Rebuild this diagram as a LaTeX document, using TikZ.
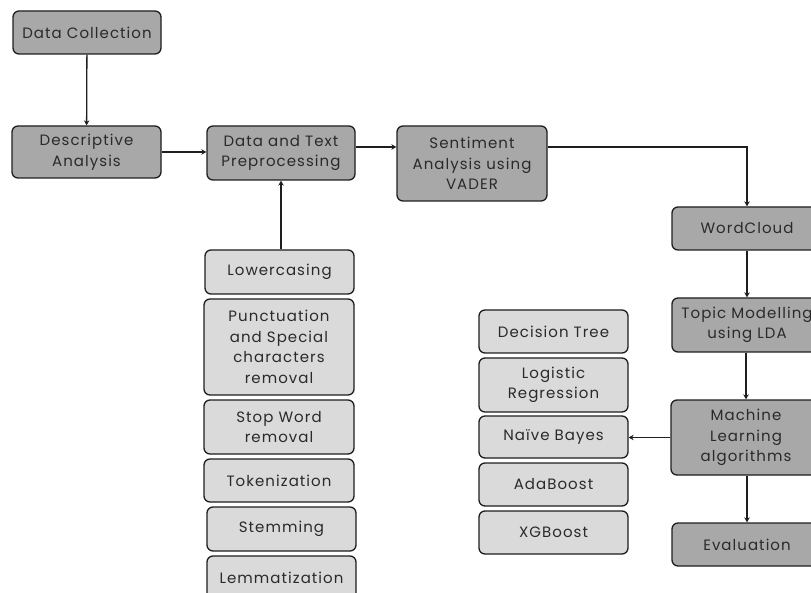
\documentclass[tikz,border=0pt]{standalone}
\usepackage{fontspec}
\setmainfont{Poppins}[LetterSpace=7]
\usetikzlibrary{arrows.meta}
\definecolor{darkfill}{HTML}{A8A8A8}
\definecolor{lightfill}{HTML}{DADADA}
\definecolor{edge}{HTML}{1E1E1E}
\definecolor{txt}{HTML}{2A2A2A}
\tikzset{
  box/.style={draw=edge, line width=1.3pt, rounded corners=6pt, align=center, inner sep=0pt, text=txt, font=\fontsize{15}{20.5}\selectfont},
  darkbox/.style={box, fill=darkfill},
  lightbox/.style={box, fill=lightfill},
  conn/.style={draw=edge, line width=1.3pt, -{Stealth[length=5pt,width=5.5pt]}}
}
\begin{document}
\begin{tikzpicture}[x=1pt,y=-1pt]
\useasboundingbox (0,0) rectangle (811,593);
\clip (0,0) rectangle (811,593);
% main column
\node[darkbox, minimum width=148pt, minimum height=43pt] (dc) at (87,32.5) {Data Collection};
\node[darkbox, minimum width=149pt, minimum height=52pt] (da) at (86.5,152) {Descriptive\\Analysis};
\node[darkbox, minimum width=148pt, minimum height=54pt] (dtp) at (281,153) {Data and Text\\Preprocessing};
\node[darkbox, minimum width=150pt, minimum height=75pt] (sa) at (472,163.5) {Sentiment\\Analysis using\\VADER};
\node[darkbox, minimum width=150pt, minimum height=43pt] (wc) at (747,228.5) {WordCloud};
\node[darkbox, minimum width=150pt, minimum height=54pt] (tm) at (747,325) {Topic Modelling\\using LDA};
\node[darkbox, minimum width=150pt, minimum height=75pt] (ml) at (746,437.5) {Machine\\Learning\\algorithms};
\node[darkbox, minimum width=150pt, minimum height=43pt] (ev) at (747,544.5) {Evaluation};
% preprocessing steps
\node[lightbox, minimum width=149pt, minimum height=44pt] (lc) at (279.5,272) {Lowercasing};
\node[lightbox, minimum width=150pt, minimum height=96pt] (pu) at (279,347) {Punctuation\\and Special\\characters\\removal};
\node[lightbox, minimum width=150pt, minimum height=54pt] (sw) at (279,427) {Stop Word\\removal};
\node[lightbox, minimum width=150pt, minimum height=43pt] (tk) at (279,480.5) {Tokenization};
\node[lightbox, minimum width=149pt, minimum height=44pt] (st) at (281.5,529) {Stemming};
\node[lightbox, minimum width=149pt, minimum height=44pt] (lm) at (281.5,578) {Lemmatization};
% algorithms
\node[lightbox, minimum width=149pt, minimum height=43pt] (dt) at (553.5,331.5) {Decision Tree};
\node[lightbox, minimum width=149pt, minimum height=54pt] (lr) at (553.5,385) {Logistic\\Regression};
\node[lightbox, minimum width=149pt, minimum height=42pt] (nb) at (553.5,437) {Naïve Bayes};
\node[lightbox, minimum width=149pt, minimum height=43pt] (ab) at (553.5,484.5) {AdaBoost};
\node[lightbox, minimum width=149pt, minimum height=43pt] (xg) at (553.5,532.5) {XGBoost};
% connectors
\coordinate (dtpout) at ([yshift=6pt]dtp.east);
\coordinate (saout) at ([yshift=16.5pt]sa.east);
\draw[conn] (dc) -- (da);
\draw[conn] (da.east) -- (dtp.west |- da.east);
\draw[conn] (dtpout) -- (sa.west |- dtpout);
\draw[conn] (saout) -| (wc.north);
\draw[conn] (wc) -- (tm);
\draw[conn] (tm.south -| ml.north) -- (ml.north);
\draw[conn] (ml.south -| ev.north) -- (ev.north);
\draw[conn] (ml.west) -- (nb.east |- ml.west);
\draw[conn] (dtp.south |- lc.north) -- (dtp.south);
\end{tikzpicture}
\end{document}
